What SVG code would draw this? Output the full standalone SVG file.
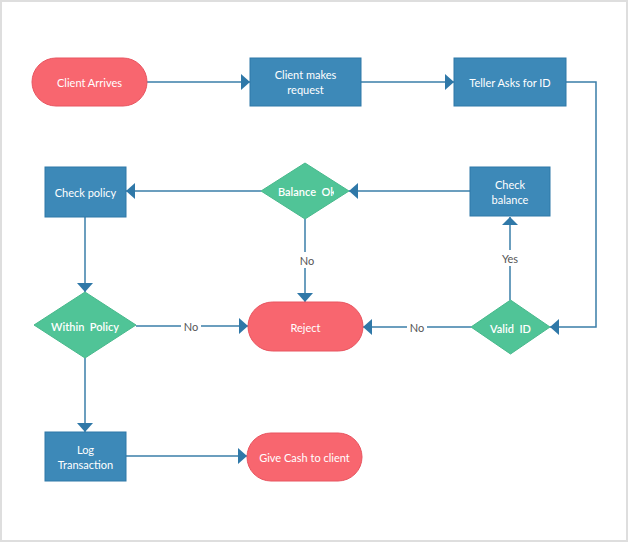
<svg xmlns="http://www.w3.org/2000/svg" width="628" height="542" viewBox="0 0 628 542">
<style>
.term{fill:#f8666f;stroke:#e85560;stroke-width:1}
.proc{fill:#3d89b8;stroke:#2f78a8;stroke-width:1}
.dec{fill:#50c497;stroke:#48b98c;stroke-width:1}
.lbl{font-family:Lato,"Liberation Sans",sans-serif;font-size:11px;fill:#ffffff;text-anchor:middle;dominant-baseline:central;white-space:pre}
.edge{fill:none;stroke:#3a7ea8;stroke-width:1.5}
.elbl{font-family:Lato,"Liberation Sans",sans-serif;font-size:11px;fill:#555555;text-anchor:middle;dominant-baseline:central}
.lblbg{fill:#ffffff}
</style>
<defs>
<clipPath id="balclip"><rect x="260" y="160" width="74" height="60"/></clipPath>
</defs>
<rect x="1" y="1" width="626" height="540" fill="#ffffff" stroke="#dedede" stroke-width="2"/>
<g id="connectors">
<path class="edge" d="M147,82 L250,82"/>
<path class="edge" d="M361,82 L454,82"/>
<path class="edge" d="M566,82 L596,82 L596,327 L550,327"/>
<path class="edge" d="M510,300 L510,217"/>
<path class="edge" d="M470,191 L349,191"/>
<path class="edge" d="M261,191 L126,191"/>
<path class="edge" d="M85,217 L85,292"/>
<path class="edge" d="M136,326 L248,326"/>
<path class="edge" d="M305,219 L305,302"/>
<path class="edge" d="M471,327 L363,327"/>
<path class="edge" d="M85,358 L85,432"/>
<path class="edge" d="M126,456 L247,456"/>
<g fill="#2f78a8">
<path d="M250,82 L241,74 L241,90 Z"/>
<path d="M454,82 L445,74 L445,90 Z"/>
<path d="M550,327 L559,319 L559,335 Z"/>
<path d="M510,217 L502,225 L518,225 Z"/>
<path d="M349,191 L358,183 L358,199 Z"/>
<path d="M126,191 L135,183 L135,199 Z"/>
<path d="M85,292 L77,283 L93,283 Z"/>
<path d="M248,326 L239,318 L239,334 Z"/>
<path d="M305,302 L297,293 L313,293 Z"/>
<path d="M363,327 L372,319 L372,335 Z"/>
<path d="M85,432 L77,423 L93,423 Z"/>
<path d="M247,456 L238,448 L238,464 Z"/>
</g>
<rect class="lblbg" x="498" y="250" width="24" height="16"/>
<text class="elbl" x="510" y="258">Yes</text>
<rect class="lblbg" x="296" y="252" width="18" height="16"/>
<text class="elbl" x="307" y="260">No</text>
<rect class="lblbg" x="181" y="318" width="20" height="16"/>
<text class="elbl" x="191" y="326">No</text>
<rect class="lblbg" x="407" y="319" width="20" height="16"/>
<text class="elbl" x="417" y="327">No</text>
</g>
<g id="client-arrives">
<rect class="term" x="32" y="58" width="115" height="48" rx="24"/>
<text class="lbl" x="89.5" y="82">Client Arrives</text>
</g>
<g id="client-makes-request">
<rect class="proc" x="250" y="58" width="111" height="48"/>
<text class="lbl" x="305.5" y="74.5">Client makes</text>
<text class="lbl" x="305.5" y="89.5">request</text>
</g>
<g id="teller-asks">
<rect class="proc" x="454" y="58" width="112" height="48"/>
<text class="lbl" x="510" y="82">Teller Asks for ID</text>
</g>
<g id="valid-id">
<path class="dec" d="M510.5,300 L550,327 L510.5,354 L471,327 Z"/>
<text class="lbl" x="510.5" y="328" style="font-weight:600">Valid  ID</text>
</g>
<g id="check-balance">
<rect class="proc" x="470" y="167" width="80" height="49"/>
<text class="lbl" x="510" y="184.5">Check</text>
<text class="lbl" x="510" y="199.5">balance</text>
</g>
<g id="balance-ok">
<path class="dec" d="M305,163 L349,191 L305,219 L261,191 Z"/>
<text class="lbl" x="307" y="191.5" clip-path="url(#balclip)" style="font-weight:600">Balance  Ok</text>
</g>
<g id="check-policy">
<rect class="proc" x="45" y="167" width="81" height="50"/>
<text class="lbl" x="85.5" y="192">Check policy</text>
</g>
<g id="within-policy">
<path class="dec" d="M85,292 L136,325 L85,358 L34,325 Z"/>
<text class="lbl" x="85" y="326" style="font-weight:600">Within  Policy</text>
</g>
<g id="reject">
<rect class="term" x="248" y="302" width="115" height="49" rx="24.5"/>
<text class="lbl" x="305.5" y="327">Reject</text>
</g>
<g id="log-transaction">
<rect class="proc" x="45" y="432" width="81" height="49"/>
<text class="lbl" x="85.5" y="449.5">Log</text>
<text class="lbl" x="85.5" y="464.5">Transaction</text>
</g>
<g id="give-cash">
<rect class="term" x="247" y="433" width="115" height="48" rx="24"/>
<text class="lbl" x="304.5" y="457">Give Cash to client</text>
</g>
</svg>
